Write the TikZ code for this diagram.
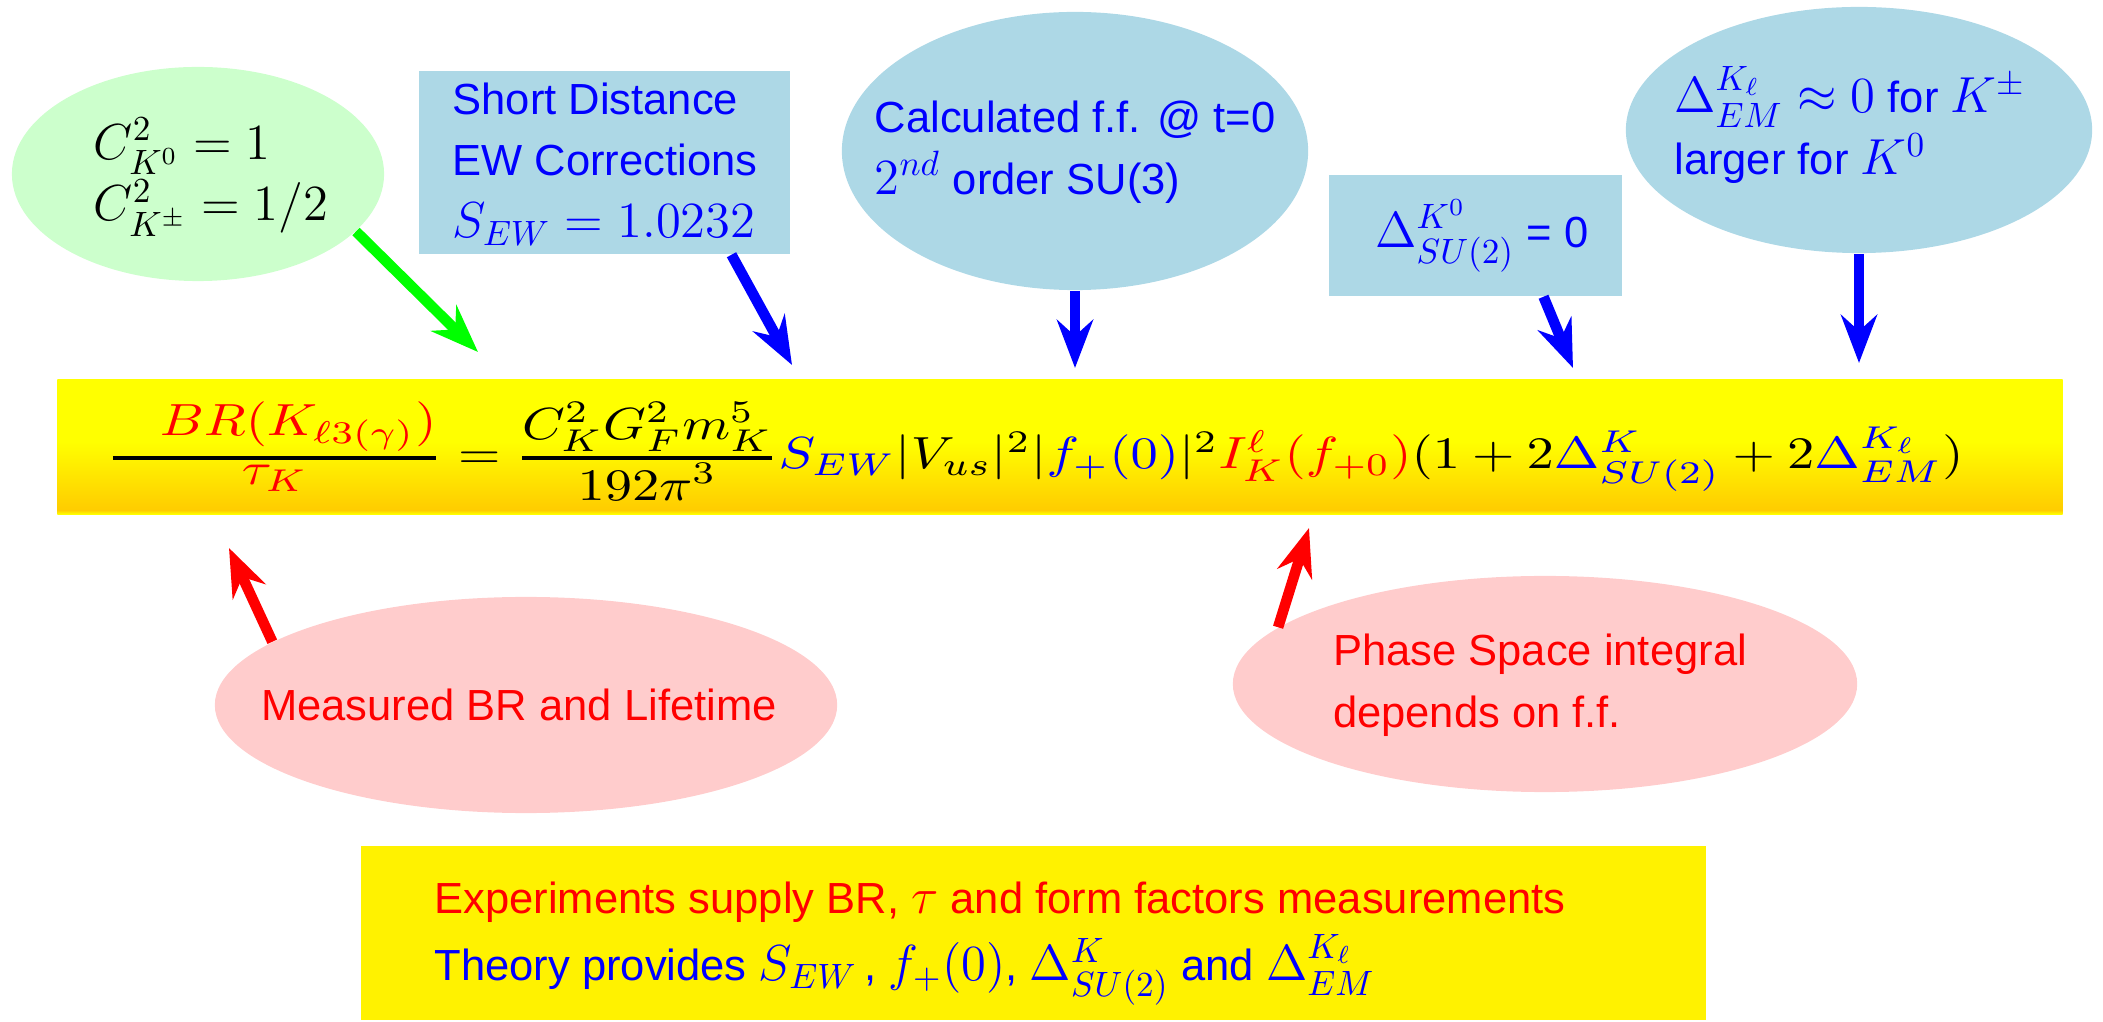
\documentclass[tikz,border=0pt]{standalone}
\usepackage{amsmath}
\usepackage[no-math]{fontspec}
\setmainfont{Liberation Sans}[Scale=0.86]
\usepackage{graphicx}
\usetikzlibrary{shapes.geometric,arrows.meta}

\definecolor{bubblegreen}{RGB}{204,255,204}
\definecolor{bubbleblue}{RGB}{173,216,230}
\definecolor{bubblepink}{RGB}{255,204,204}
\definecolor{bandgold}{RGB}{255,204,0}

% yellow band, gold towards its lower edge
\pgfdeclareverticalshading{bandshade}{100bp}{color(0bp)=(yellow); color(25bp)=(yellow); color(26.5bp)=(bandgold); color(52bp)=(yellow); color(100bp)=(yellow)}

\newcommand{\notefont}{\fontsize{14.4}{17.6}\selectfont}
% fraction with a heavier bar, both parts in text size
\newcommand{\bfrac}[2]{\genfrac{}{}{0.9pt}{1}{\textstyle #1}{\textstyle #2}}

\tikzset{
  bubble/.style={ellipse, inner sep=0pt},
  panel/.style={rectangle, inner sep=0pt},
  note/.style={font=\notefont, align=left, inner sep=0pt},
  push/.style={line width=3pt, -{Stealth[length=4.8mm, width=3.6mm, inset=1.6mm]}},
}

\begin{document}
\begin{tikzpicture}[x=0.01cm, y=-0.01cm]
\useasboundingbox (0,0) rectangle (2103,1022);

% Notes above the formula
\node[bubble, fill=bubblegreen, minimum width=3.72cm, minimum height=2.14cm] (cfac) at (198,174) {};
\node[note] (cfactxt) at (211,177) {$C^2_{K^0} = 1$\\$C^2_{K^\pm} = 1/2$};

\node[panel, fill=bubbleblue, minimum width=3.71cm, minimum height=1.83cm] (sew) at (604.5,162.5) {};
\node[note, text=blue] (sewtxt) at (605,164) {Short Distance\\EW Corrections\\$S_{EW} = 1.0232$};

\node[bubble, fill=bubbleblue, minimum width=4.66cm, minimum height=2.78cm] (calc) at (1075,151) {};
\node[note, text=blue] (calctxt) at (1075,152) {Calculated f.f. @ t=0\\$2^{nd}$ order SU(3)};

\node[panel, fill=bubbleblue, minimum width=2.93cm, minimum height=1.21cm] (dsu) at (1475.5,235.5) {};
\node[note, text=blue] (dsutxt) at (1482,236) {$\Delta^{K^0}_{SU(2)}$ = 0};

\node[bubble, fill=bubbleblue, minimum width=4.66cm, minimum height=2.46cm] (dem) at (1859,130) {};
\node[note, text=blue] (demtxt) at (1850,125) {$\Delta^{K_\ell}_{EM} \approx 0$ for $K^\pm$\\larger for $K^0$};

% The formula
\node[panel, shade, shading=bandshade, minimum width=20.04cm, minimum height=1.34cm] (band) at (1060,447) {};
\node[inner sep=0pt] (eq) at (1035,451) {\scalebox{1.55}[1.28]{$
  \bfrac{\quad\color{red}BR(K_{\ell3(\gamma)})}{\color{red}\tau_K}
  = \bfrac{C_K^2G_F^2m_K^5}{192\pi^3}{\color{blue}S_{EW}}|V_{us}|^2|{\color{blue}f_+(0)}|^2
  {\color{red}I_K^\ell(f_{+0})}(1+2{\color{blue}\Delta^K_{SU(2)}}+2{\color{blue}\Delta^{K_\ell}_{EM}})$}};

% Notes below the formula
\node[bubble, fill=bubblepink, minimum width=6.22cm, minimum height=2.16cm] (meas) at (526,705) {};
\node[note, text=red] (meastxt) at (519,705) {Measured BR and Lifetime};

\node[bubble, fill=bubblepink, minimum width=6.24cm, minimum height=2.16cm] (phase) at (1545,684) {};
\node[note, text=red] (phasetxt) at (1540,685) {Phase Space integral\\depends on f.f.};

\node[panel, fill=yellow, minimum width=13.45cm, minimum height=1.74cm] (summary) at (1033.5,933) {};
\node[note] (summarytxt) at (1000,944) {\textcolor{red}{Experiments supply BR, $\tau$ and form factors measurements}\\[1.4pt]
  \textcolor{blue}{Theory provides $S_{EW}$\,,\ $f_+(0)$,\ $\Delta^K_{SU(2)}$ and $\Delta^{K_\ell}_{EM}$}};

% Arrow tips
\coordinate (tipcfac) at (478,352);
\coordinate (tipsew) at (792,365);
\coordinate (tipcalc) at (1075,368);
\coordinate (tipdsu) at (1573,368);
\coordinate (tipdem) at (1859,363);
\coordinate (tipmeas) at (229,548);
\coordinate (tipphase) at (1309,528);

\draw[push, green] (cfac.-20) -- (tipcfac);
\draw[push, blue] (sew.-36) -- (tipsew);
\draw[push, blue] (calc.south) -- (tipcalc);
\draw[push, blue] (dsu.-42) -- (tipdsu);
\draw[push, blue] (dem.south) -- (tipdem);
\draw[push, red] (meas.166) -- (tipmeas);
\draw[push, red] (phase.168) -- (tipphase);
\end{tikzpicture}
\end{document}
